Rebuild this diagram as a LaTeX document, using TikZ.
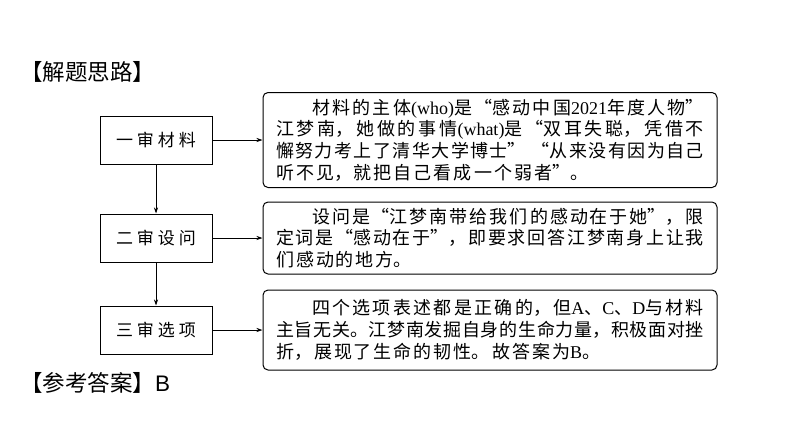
\documentclass[tikz,border=0pt]{standalone}
\usepackage{fontspec}
\setmainfont{Noto Sans CJK SC}
\newfontfamily\latserif{Liberation Serif}
\newfontfamily\latsans{Liberation Sans}
\usetikzlibrary{arrows.meta}
\newcommand\cjkpar{\XeTeXlinebreaklocale "zh"\XeTeXlinebreakskip=0pt plus 1fil\relax}
\newcommand\cjklast{\XeTeXlinebreakskip=2pt plus 1fil\relax}
\newcommand\cjkend{\hskip 0pt plus 1filll\null}
\tikzset{
 stepbox/.style={draw, line width=1pt, minimum width=112pt, minimum height=48pt, inner sep=0pt, font=\fontsize{17}{20}\selectfont},
 notebox/.style={draw, line width=1pt, rounded corners=5pt, text width=428pt, inner xsep=13pt, inner ysep=0pt, align=justify, font=\fontsize{18}{21.7}\selectfont},
 link/.style={line width=0.8pt, -{Stealth[length=6pt,width=4pt]}},
 heading/.style={anchor=west, inner sep=0pt, font=\fontsize{22.5}{26}\selectfont},
}
\begin{document}
\begin{tikzpicture}[x=1pt,y=-1pt]
\useasboundingbox (0,0) rectangle (794,447);
\node[heading] (t1) at (20,72) {【解题思路】};
\node[heading] (t2) at (20,383) {【参考答案】{\latsans B}};

\node[stepbox] (s1) at (156,140) {一\hspace{4pt}审\hspace{4pt}材\hspace{4pt}料};
\node[stepbox] (s2) at (156,238) {二\hspace{4pt}审\hspace{4pt}设\hspace{4pt}问};
\node[stepbox] (s3) at (156,330) {三\hspace{4pt}审\hspace{4pt}选\hspace{4pt}项};

\node[notebox, minimum height=95pt] (n1) at (490,140) {\cjkpar\hspace*{2em}材料的主体{\latserif (who)}是“感动中国{\latserif 2021}年度人物”\linebreak 江梦南，她做的事情{\latserif (what)}是“双耳失聪，凭借不\linebreak 懈努力考上了清华大学博士”\hspace{6pt}“从来没有因为自己\linebreak \cjklast 听不见，就把自己看成一个弱者”。\cjkend};
\node[notebox, minimum height=72pt] (n2) at (490,238) {\cjkpar\hspace*{2em}设问是“江梦南带给我们的感动在于她”，限\linebreak 定词是“感动在于”，即要求回答江梦南身上让我\linebreak \cjklast 们感动的地方。\cjkend};
\node[notebox, minimum height=80pt] (n3) at (490,330) {\cjkpar\hspace*{2em}四个选项表述都是正确的，但{\latserif A}、{\latserif C}、{\latserif D}与材料\linebreak 主旨无关。江梦南发掘自身的生命力量，积极面对挫\linebreak \cjklast 折，展现了生命的韧性。故答案为{\latserif B}。\cjkend};

\draw[link] (s1) -- (n1);
\draw[link] (s2) -- (n2);
\draw[link] (s3) -- (n3);
\draw[link] (s1) -- (s2);
\draw[link] (s2) -- (s3);
\end{tikzpicture}
\end{document}
